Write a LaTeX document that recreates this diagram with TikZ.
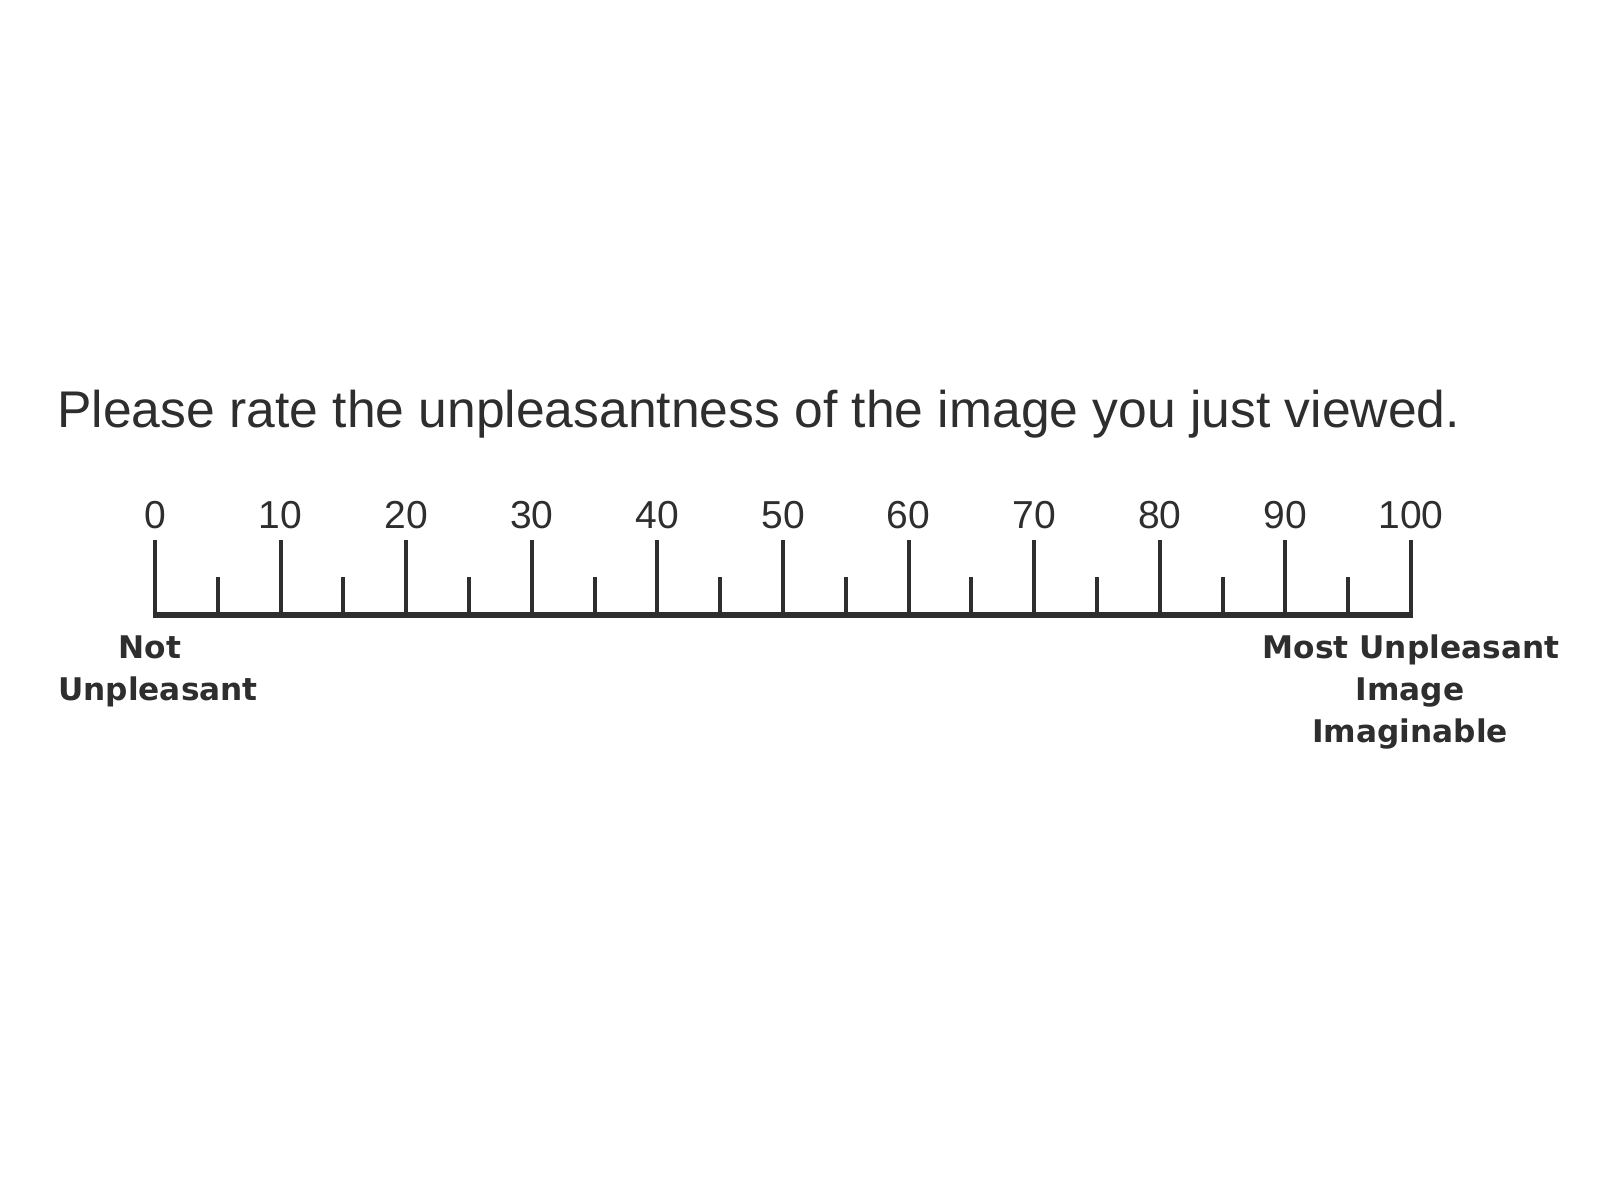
\documentclass[tikz,border=0pt]{standalone}
\usepackage{fontspec}
\setmainfont{Liberation Sans}
\newfontfamily\labfont{DejaVu Sans}
\definecolor{ink}{HTML}{2E2E2E}
\begin{document}
\begin{tikzpicture}[x=0.5pt,y=-0.5pt,
  titletext/.style={inner sep=0pt,anchor=base west,text=ink,font=\fontsize{25.8}{30}\selectfont},
  numtext/.style={inner sep=0pt,anchor=base,text=ink,font=\fontsize{19.5}{23}\selectfont},
  endtext/.style={inner sep=0pt,anchor=base,text=ink,font=\labfont\bfseries\fontsize{15.6}{20}\selectfont},
  tickline/.style={draw=ink,line width=2pt,line cap=butt},
  baseline/.style={draw=ink,line width=3pt,line cap=butt}]
\useasboundingbox[fill=white] (0,0) rectangle (1600,1198);
\node[titletext] (title) at (57,427) {Please rate the unpleasantness of the image you just viewed.};
% axis
\coordinate (a0) at (153,615);
\coordinate (a100) at (1413,615);
\foreach \i in {0,5,...,100}{
  \pgfmathsetmacro{\xx}{155+12.56*\i}
  \coordinate (b\i) at (\xx,615);
}
\foreach \i in {0,10,...,100}{
  \pgfmathsetmacro{\xx}{155+12.56*\i}
  \coordinate (t\i) at (\xx,540);
  \draw[tickline] (b\i) -- (t\i);
  \node[numtext] (n\i) at (\xx,528) {\i};
}
\foreach \i in {5,15,...,95}{
  \pgfmathsetmacro{\xx}{155+12.56*\i}
  \coordinate (t\i) at (\xx,577);
  \draw[tickline] (b\i) -- (t\i);
}
\draw[baseline] (a0) -- (a100);
\node[endtext] (notA) at (150,658) {Not};
\node[endtext] (notB) at (158,700) {Unpleasant};
\node[endtext] (mostA) at (1411,658) {Most Unpleasant};
\node[endtext] (mostB) at (1410,700) {Image};
\node[endtext] (mostC) at (1410,742) {Imaginable};
\end{tikzpicture}
\end{document}
